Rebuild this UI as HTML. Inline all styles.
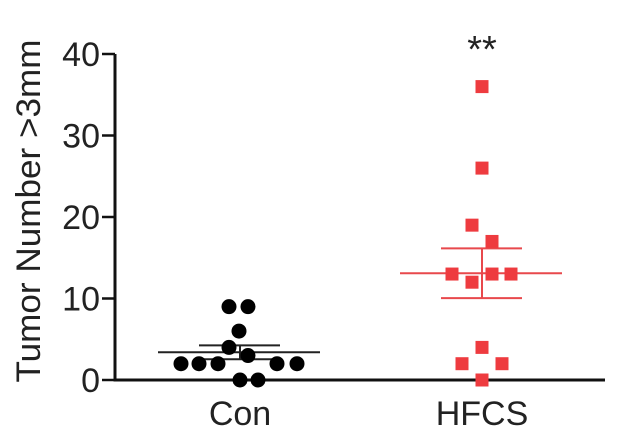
<!DOCTYPE html>
<html><head><meta charset="utf-8"><style>
html,body{margin:0;padding:0;background:#fff}
svg{display:block;font-family:"Liberation Sans",Arial,sans-serif}
</style></head><body>
<svg id="chart" width="640" height="444" viewBox="0 0 640 444"></svg>
<script>
const categories = ["Con", "HFCS"];
const conValues = [9, 9, 6, 4, 3, 2, 2, 2, 2, 2, 0, 0];
const conJitter = [-11, 8, -1, -11, 8, -59, -41, -22, 37, 57, 0, 18];
const hfcsValues = [36, 26, 19, 17, 13, 12, 13, 13, 4, 2, 2, 0];
const hfcsJitter = [0, 0, -10, 10, -30, -10, 10, 29, 0, -20, 20, 0];
const means = [3.4, 13.1];
const sems = [0.85, 3.05];
const yTicks = [0, 10, 20, 30, 40];
const sigLabel = "**";

const svg = document.getElementById('chart');
const NS = 'http://www.w3.org/2000/svg';
const x0 = 115, x1 = 605, yTop = 54, yBot = 380, yMax = 40;
const yS = v => yBot - (v / yMax) * (yBot - yTop);
const catX = i => 240 + i * 242;
function mk(tag, attrs, parent) {
  const e = document.createElementNS(NS, tag);
  for (const k in attrs) e.setAttribute(k, attrs[k]);
  (parent || svg).appendChild(e);
  return e;
}
let e = mk('line', {x1: x0, y1: yTop, x2: x0, y2: yBot + 1.5, stroke: '#111', 'stroke-width': 3});


e = mk('line', {x1: x0 - 1.5, y1: yBot, x2: x1, y2: yBot, stroke: '#111', 'stroke-width': 3});


yTicks.forEach(t => {
  const tk = mk('line', {x1: 102, y1: yS(t), x2: x0, y2: yS(t), stroke: '#111', 'stroke-width': 2.5});
  
  
  const lb = mk('text', {x: 100, y: yS(t) + 12, 'text-anchor': 'end', 'font-size': 34, fill: '#222'});
  lb.textContent = t;
  
  
});
e = mk('text', {x: 0, y: 0, 'text-anchor': 'middle', 'font-size': 34, fill: '#222', textLength: 343, lengthAdjust: 'spacingAndGlyphs', transform: 'translate(40,211) rotate(-90)'});
e.textContent = 'Tumor Number >3mm';


categories.forEach((c, i) => {
  const lb = mk('text', {x: catX(i), y: 425, 'text-anchor': 'middle', 'font-size': 34, fill: '#222'});
  lb.textContent = c;
  
  
});
e = mk('text', {x: catX(1), y: 62, 'text-anchor': 'middle', 'font-size': 38, fill: '#222'});
e.textContent = sigLabel;


const colors = ['#222', '#e8484c'];
means.forEach((m, i) => {
  const cx = catX(i), col = colors[i];
  const g = mk('g', {stroke: col, 'stroke-width': 2});
  
  
  mk('line', {x1: cx - 82, y1: yS(m), x2: cx + 80, y2: yS(m)}, g);
  mk('line', {x1: cx - 41, y1: yS(m + sems[i]), x2: cx + 40, y2: yS(m + sems[i])}, g);
  mk('line', {x1: cx - 41, y1: yS(m - sems[i]), x2: cx + 40, y2: yS(m - sems[i])}, g);
  mk('line', {x1: cx, y1: yS(m + sems[i]), x2: cx, y2: yS(m - sems[i])}, g);
});
conValues.forEach((v, j) => {
  const c = mk('circle', {cx: catX(0) + conJitter[j], cy: yS(v), r: 7.5, fill: '#000'});
  
  
});
hfcsValues.forEach((v, j) => {
  const r = mk('rect', {x: catX(1) + hfcsJitter[j] - 6.5, y: yS(v) - 6.5, width: 13, height: 13, fill: '#ee3b3f'});
  
  
});
</script>
</body></html>
